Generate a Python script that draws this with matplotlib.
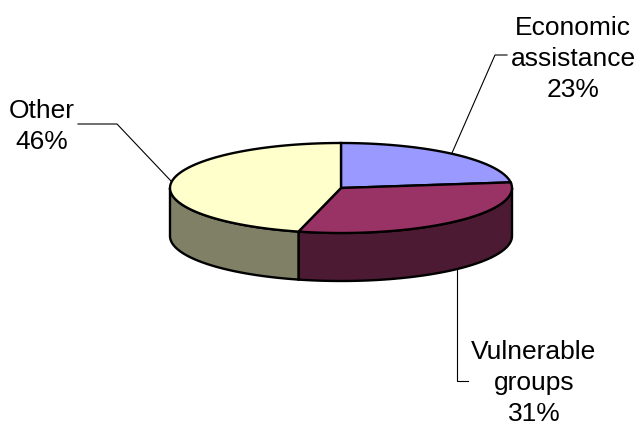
import matplotlib
matplotlib.use('Agg')
import matplotlib.pyplot as plt
from matplotlib.patches import Polygon
import numpy as np

labels = ['Economic\nassistance\n23%', 'Vulnerable\ngroups\n31%', 'Other\n46%']
shares = [23, 31, 46]
top_colors = ['#9999ff', '#993366', '#ffffcc']
side_colors = ['#4c4c80', '#4d1a33', '#808066']

# ellipse of the pie in pixel units
cx, cy = 341, 188
rx, ry = 171, 45
depth = 48


def rim(a0, a1):
    # angles are clockwise from 12 o'clock, in degrees
    a = np.radians(np.linspace(a0, a1, 200))
    return np.column_stack([cx + rx*np.sin(a), cy - ry*np.cos(a)])


fig = plt.figure(figsize=(6.42, 4.30), dpi=100)
ax = fig.add_axes([0, 0, 1, 1])
ax.set_xlim(0, 642)
ax.set_ylim(430, 0)
ax.axis('off')

plt.rcParams['font.family'] = ['Liberation Sans', 'DejaVu Sans']

edges = np.cumsum([0] + shares) * 3.6

# side wall, only the front half of the rim is visible
for i in range(len(shares)):
    a0 = max(edges[i], 90)
    a1 = min(edges[i+1], 270)
    if a1 <= a0:
        continue
    r = rim(a0, a1)
    wall = np.vstack([r, (r + [0, depth])[::-1]])
    ax.add_patch(Polygon(wall, closed=True, fc=side_colors[i], ec='black', lw=1.7, zorder=2))

# top face
for i in range(len(shares)):
    r = rim(edges[i], edges[i+1])
    ax.add_patch(Polygon(np.vstack([[cx, cy], r]), closed=True, fc=top_colors[i],
                         ec='black', lw=1.7, zorder=3))

# leader lines
ax.plot([452, 495, 507], [153, 55, 55], color='black', lw=0.8, zorder=1)
ax.plot([457, 457, 468], [270, 381, 381], color='black', lw=0.8, zorder=1)
ax.plot([171, 117, 78], [181, 124, 124], color='black', lw=0.8, zorder=1)

# slice labels
ax.text(573, 59, labels[0], ha='center', va='center', fontsize=19, linespacing=1.37, zorder=5)
ax.text(534, 383, labels[1], ha='center', va='center', fontsize=19, linespacing=1.37, zorder=5)
ax.text(42, 126.5, labels[2], ha='center', va='center', fontsize=19, linespacing=1.37, zorder=5)

fig.savefig('out.png', dpi=100)
